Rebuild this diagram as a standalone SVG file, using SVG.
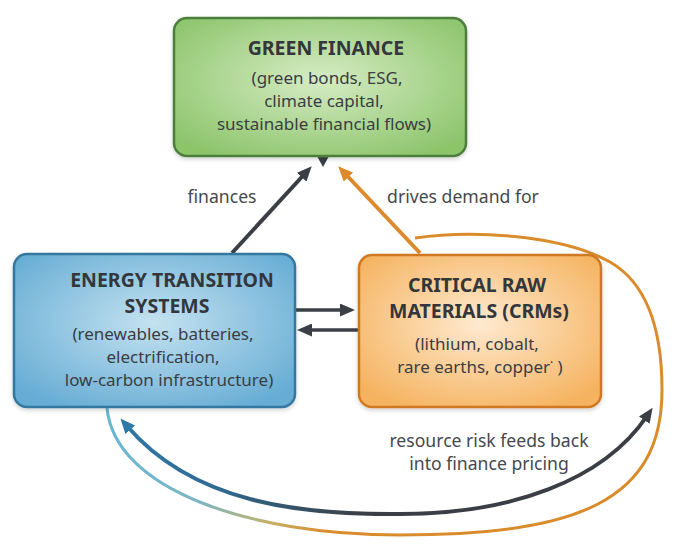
<svg xmlns="http://www.w3.org/2000/svg" width="680" height="554" viewBox="0 0 680 554">
<style>
.t{font-family:"Noto Sans","Open Sans","DejaVu Sans",sans-serif;fill:#3a3d42;text-anchor:middle}
.h{font-size:19.5px;font-weight:bold;fill:#33363b}
.s{font-size:17px}
.l{font-size:17.6px;fill:#45484d}
.ln{fill:none;stroke-linecap:butt}
</style>
<defs>
<radialGradient id="gG" cx="50%" cy="45%" r="65%">
<stop offset="0" stop-color="#d6ecc4"/><stop offset="1" stop-color="#8cc46b"/>
</radialGradient>
<radialGradient id="gB" cx="50%" cy="45%" r="65%">
<stop offset="0" stop-color="#c4e2f0"/><stop offset="1" stop-color="#66acd4"/>
</radialGradient>
<radialGradient id="gO" cx="50%" cy="45%" r="65%">
<stop offset="0" stop-color="#feead0"/><stop offset="1" stop-color="#f5b25e"/>
</radialGradient>
<linearGradient id="gDark" gradientUnits="userSpaceOnUse" x1="120" y1="0" x2="360" y2="0">
<stop offset="0" stop-color="#2f79a9"/><stop offset="0.4" stop-color="#2f6a92"/><stop offset="1" stop-color="#3b3f45"/>
</linearGradient>
<linearGradient id="gLoop" gradientUnits="userSpaceOnUse" x1="107" y1="0" x2="340" y2="0">
<stop offset="0" stop-color="#68b6d2"/><stop offset="0.4" stop-color="#7db6c4"/><stop offset="0.7" stop-color="#c3b066"/><stop offset="0.92" stop-color="#d98d32"/><stop offset="1" stop-color="#da8b2c"/>
</linearGradient>
<filter id="sh" x="-10%" y="-10%" width="120%" height="125%">
<feDropShadow dx="0" dy="2" stdDeviation="2" flood-color="#000" flood-opacity="0.18"/>
</filter>
<marker id="aD" viewBox="0 0 15 13" markerWidth="15" markerHeight="13" refX="5" refY="6.5" orient="auto" markerUnits="userSpaceOnUse"><path d="M0,0 L15,6.5 L0,13 z" fill="#3b3f45"/></marker>
<marker id="aO" viewBox="0 0 15 13" markerWidth="15" markerHeight="13" refX="5" refY="6.5" orient="auto" markerUnits="userSpaceOnUse"><path d="M0,0 L15,6.5 L0,13 z" fill="#dd8a2c"/></marker>
<marker id="aB" viewBox="0 0 15 13" markerWidth="15" markerHeight="13" refX="5" refY="6.5" orient="auto-start-reverse" markerUnits="userSpaceOnUse"><path d="M0,0 L15,6.5 L0,13 z" fill="#2f79a9"/></marker>
</defs>
<rect width="680" height="554" fill="#ffffff"/>

<g id="connectors">
<path class="ln" d="M415,238 C470,230 560,234 610,262 C650,285 662,335 662,390 C662,500 580,535 400,535 C250,535 115,490 107,408" stroke="url(#gLoop)" stroke-width="3"/>
<path class="ln" d="M232,253 L305,173.5" stroke="#3b3f45" stroke-width="4" marker-end="url(#aD)"/>
<path class="ln" d="M420,253 L345,173.5" stroke="#dd8a2c" stroke-width="4" marker-end="url(#aO)"/>
<path class="ln" d="M296,310 L345,310" stroke="#3b3f45" stroke-width="3.5" marker-end="url(#aD)"/>
<path class="ln" d="M358,330 L307,330" stroke="#3b3f45" stroke-width="3.5" marker-end="url(#aD)"/>
<path class="ln" d="M127,426 C193,503 300,515 400,514 C510,514 603,481 647,416" stroke="url(#gDark)" stroke-width="4" marker-start="url(#aB)" marker-end="url(#aD)"/>
<polygon points="323,147 328.5,157 323,167 317.5,157" fill="#3b3f45"/>
<text class="t l" x="222" y="203">finances</text>
<text class="t l" x="463" y="203">drives demand for</text>
<text class="t l" x="489" y="447">resource risk feeds back</text>
<text class="t l" x="489" y="470">into finance pricing</text>
</g>

<g id="green-finance">
<rect x="174" y="18" width="292" height="138" rx="13" fill="url(#gG)" stroke="#4b7f3b" stroke-width="2.5" filter="url(#sh)"/>
<text class="t h" x="326" y="55">GREEN FINANCE</text>
<text class="t s" x="327" y="84">(green bonds, ESG,</text>
<text class="t s" x="324" y="107">climate capital,</text>
<text class="t s" x="324" y="130">sustainable financial flows)</text>
</g>

<g id="energy-transition">
<rect x="14" y="254" width="281" height="153" rx="13" fill="url(#gB)" stroke="#36789f" stroke-width="2.5" filter="url(#sh)"/>
<text class="t h" x="172" y="287">ENERGY TRANSITION</text>
<text class="t h" x="167" y="313">SYSTEMS</text>
<text class="t s" x="163" y="340">(renewables, batteries,</text>
<text class="t s" x="163" y="363">electrification,</text>
<text class="t s" x="169" y="386">low-carbon infrastructure)</text>
</g>

<g id="critical-raw-materials">
<rect x="359" y="255" width="242" height="152" rx="13" fill="url(#gO)" stroke="#cf7a22" stroke-width="2.5" filter="url(#sh)"/>
<text class="t h" x="477" y="292">CRITICAL RAW</text>
<text class="t h" x="479" y="318">MATERIALS (CRMs)</text>
<text class="t s" x="477" y="350">(lithium, cobalt,</text>
<text class="t s" x="480" y="373">rare earths, copper˙ )</text>
</g>
</svg>
